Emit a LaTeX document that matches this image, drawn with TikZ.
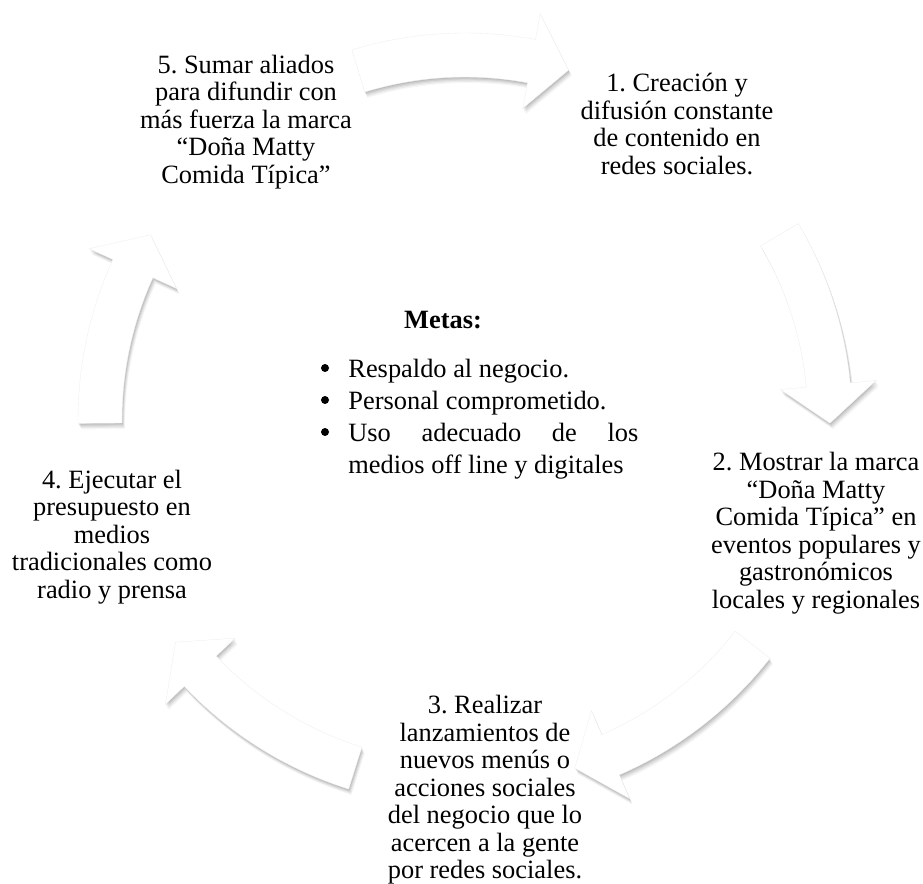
\documentclass[tikz,border=0pt]{standalone}
\usepackage{fontspec}
\setmainfont{Liberation Serif}
\usetikzlibrary{shadows}
\frenchspacing

\begin{document}
\begin{tikzpicture}[
    x=0.5pt, y=0.5pt,
    stagetext/.style={align=center,inner sep=0pt,font=\fontsize{13.2}{13.75}\selectfont},
    blockarrow/.style={fill=white,draw=black!6,line width=0.2pt,
      general shadow={fill=black,opacity=0.08,shadow xshift=0.3pt,shadow yshift=-0.6pt},
      general shadow={fill=black,opacity=0.07,shadow xshift=0.6pt,shadow yshift=-1.2pt},
      general shadow={fill=black,opacity=0.06,shadow xshift=0.9pt,shadow yshift=-1.8pt},
      general shadow={fill=black,opacity=0.05,shadow xshift=1.2pt,shadow yshift=-2.4pt},
      general shadow={fill=black,opacity=0.03,shadow xshift=1.5pt,shadow yshift=-3pt}},
    dot/.style={fill=black}
    ]
    \useasboundingbox (0,0) rectangle (923,884);

    % circular arrows
    \begin{scope}[shift={(465,464)}]
      \draw [blockarrow] (107:387) arc[start angle=107, end angle=79.5, radius=387] -- (79.5:413) -- (73.5:365) -- (79.5:317) -- (79.5:343) arc[start angle=79.5, end angle=107, radius=343] -- cycle;
      \draw [blockarrow] (30.5:387) arc[start angle=30.5, end angle=5.5, radius=387] -- (5.5:413) -- (-0.5:365) -- (5.5:317) -- (5.5:343) arc[start angle=5.5, end angle=30.5, radius=343] -- cycle;
      \draw [blockarrow] (-38:387) arc[start angle=-38, end angle=-66.5, radius=387] -- (-66.5:413) -- (-72.5:365) -- (-66.5:317) -- (-66.5:343) arc[start angle=-66.5, end angle=-38, radius=343] -- cycle;
      \draw [blockarrow] (-107.5:387) arc[start angle=-107.5, end angle=-136.5, radius=387] -- (-136.5:413) -- (-142.5:365) -- (-136.5:317) -- (-136.5:343) arc[start angle=-136.5, end angle=-107.5, radius=343] -- cycle;
      \draw [blockarrow] (180.5:387) arc[start angle=180.5, end angle=155.5, radius=387] -- (155.5:413) -- (149.5:365) -- (155.5:317) -- (155.5:343) arc[start angle=155.5, end angle=180.5, radius=343] -- cycle;
    \end{scope}

    \node (stage1) at (677, 760) [stagetext] {1. Creación y\\difusión constante\\de contenido en\\redes sociales.};
    \node (stage2) at (816, 351) [stagetext] {2. Mostrar la marca\\“Doña Matty\\Comida Típica” en\\eventos populares y\\gastronómicos\\locales y regionales};
    \node (stage3) at (485, 94) [stagetext] {3. Realizar\\lanzamientos de\\nuevos menús o\\acciones sociales\\del negocio que lo\\acercen a la gente\\por redes sociales.};
    \node (stage4) at (112, 347) [stagetext] {4. Ejecutar el\\presupuesto en\\medios\\tradicionales como\\radio y prensa};
    \node (stage5) at (246, 762) [stagetext] {5. Sumar aliados\\para difundir con\\más fuerza la marca\\“Doña Matty\\Comida Típica”};

    % goals
    \node (goaltitle) at (443, 564) [stagetext] {\bfseries Metas:};
    \node (goallist) at (348, 506) [anchor=base west,inner sep=0pt,font=\fontsize{13.2}{16}\selectfont]
      {\begin{tabular}[t]{@{}p{145pt}@{}}
        Respaldo al negocio.\\
        Personal comprometido.\\
        Uso\hfill adecuado\hfill de\hfill los\newline medios off line y digitales
      \end{tabular}};
    \fill [dot] (325, 516) circle (4);
    \fill [dot] (325, 484) circle (4);
    \fill [dot] (325, 452) circle (4);

  \end{tikzpicture}
\end{document}
